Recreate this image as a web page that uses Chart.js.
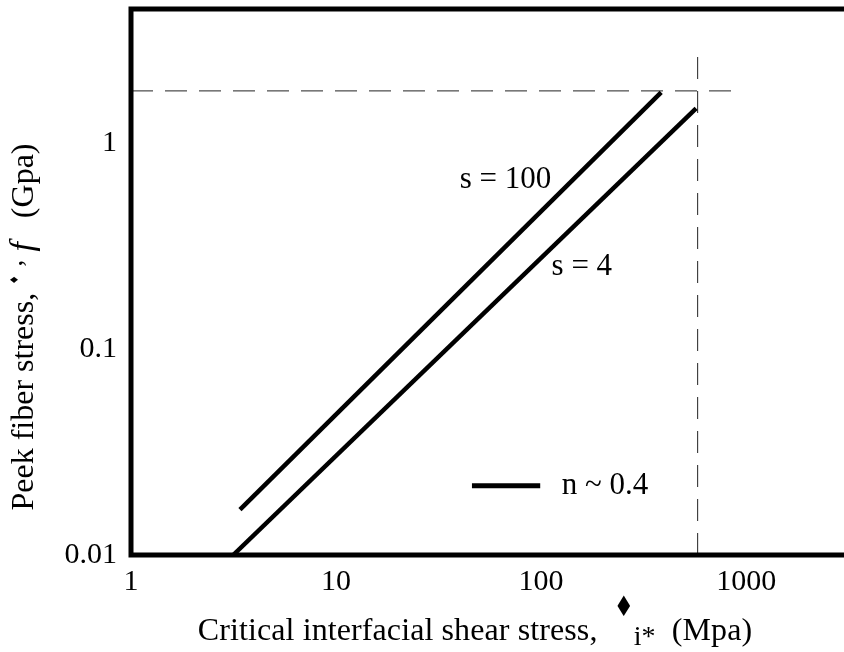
<!DOCTYPE html>
<html>
<head>
<meta charset="utf-8">
<script src="https://cdn.jsdelivr.net/npm/chart.js@4/dist/chart.umd.min.js"></script>
<style>
  html, body { margin: 0; padding: 0; background: #fff; }
  #wrap { width: 844px; height: 652px; }
</style>
</head>
<body>
<div id="wrap"><canvas id="fiberChart" width="844" height="652"></canvas></div>
<script>
// shear stress (MPa) vs. peak fiber stress (GPa), both log scales
const xTicks = [1, 10, 100, 1000];
const yTicks = [0.01, 0.1, 1];

const tauS100 = [3.4, 385];
const sigS100 = [0.0166, 1.77];
const tauS4 = [3.15, 570];
const sigS4 = [0.01, 1.48];

// limit lines
const sigLimit = 1.8;
const sigLimitTau = [1, 850];
const tauLimit = 580;
const tauLimitSig = [0.01, 3.0];

// curve labels, placed in data units
const curveLabels = [
    { text: 's = 100', x: 67, y: 0.667 },
    { text: 's = 4', x: 158, y: 0.25 }
];
const keyLine = { x1: 46, x2: 99, y: 0.0217, textX: 126, text: 'n ~ 0.4' };

const SERIF = '"Liberation Serif", "Times New Roman", serif';
const SYMBOL = '"DejaVu Sans", sans-serif';

function pts(xs, ys) {
    return xs.map((x, i) => ({ x: x, y: ys[i] }));
}

// draw a run of text pieces centred on cx; each piece may be shifted
// vertically (dy) or squeezed horizontally (sx)
function drawParts(ctx, parts, cx, baseline) {
    const widths = parts.map(p => {
        ctx.font = p.f;
        ctx.letterSpacing = p.ls || '0px';
        return ctx.measureText(p.t).width * (p.sx || 1);
    });
    let x = cx - widths.reduce((s, w) => s + w, 0) / 2;
    ctx.textAlign = 'left';
    parts.forEach((p, i) => {
        ctx.font = p.f;
        ctx.letterSpacing = p.ls || '0px';
        ctx.save();
        ctx.translate(x, baseline + (p.dy || 0));
        ctx.scale(p.sx || 1, 1);
        ctx.fillText(p.t, 0, 0);
        ctx.restore();
        x += widths[i];
    });
    ctx.letterSpacing = '0px';
}

const frameAndText = {
    id: 'frameAndText',
    afterDraw(chart) {
        const ctx = chart.ctx;
        const a = chart.chartArea;
        const xs = chart.scales.x;
        const ys = chart.scales.y;

        // heavy frame: left, top, bottom (right side runs off the page)
        ctx.save();
        ctx.strokeStyle = '#000';
        ctx.lineWidth = 5;
        ctx.lineCap = 'square';
        ctx.beginPath();
        ctx.moveTo(chart.width, a.top);
        ctx.lineTo(a.left, a.top);
        ctx.lineTo(a.left, a.bottom);
        ctx.lineTo(chart.width, a.bottom);
        ctx.stroke();
        ctx.restore();

        ctx.save();
        ctx.fillStyle = '#000';
        ctx.textBaseline = 'middle';
        ctx.textAlign = 'center';
        ctx.font = '31px ' + SERIF;
        curveLabels.forEach(l => {
            ctx.fillText(l.text, xs.getPixelForValue(l.x), ys.getPixelForValue(l.y));
        });

        // key for the line style
        const ky = ys.getPixelForValue(keyLine.y);
        ctx.strokeStyle = '#000';
        ctx.lineWidth = 5;
        ctx.beginPath();
        ctx.moveTo(xs.getPixelForValue(keyLine.x1), ky);
        ctx.lineTo(xs.getPixelForValue(keyLine.x2), ky);
        ctx.stroke();
        ctx.textAlign = 'left';
        ctx.fillText(keyLine.text, xs.getPixelForValue(keyLine.textX), ky);
        ctx.restore();

        // x axis title with raised symbol and subscript
        ctx.save();
        ctx.fillStyle = '#000';
        ctx.textBaseline = 'alphabetic';
        const xParts = [
            { t: 'Critical interfacial shear stress,  ', f: '32px ' + SERIF, ls: '0.1px' },
            { t: '\u2666', f: '28px ' + SYMBOL, dy: -24, sx: 0.8 },
            { t: 'i*', f: '28px ' + SERIF, dy: 5 },
            { t: '  (Mpa)', f: '32px ' + SERIF, ls: '0.1px' }
        ];
        drawParts(ctx, xParts, 475, 640);
        ctx.restore();

        // y axis title, rotated
        ctx.save();
        ctx.translate(33, 327);
        ctx.rotate(-Math.PI / 2);
        ctx.fillStyle = '#000';
        ctx.textBaseline = 'alphabetic';
        const yParts = [
            { t: 'Peek fiber stress, ', f: '32px ' + SERIF },
            { t: '\u2666', f: '11px ' + SYMBOL, dy: -15 },
            { t: ' \u2019 ', f: '28px ' + SERIF, dy: 4 },
            { t: 'f', f: 'italic 34px ' + SERIF },
            { t: '   (Gpa)', f: '32px ' + SERIF }
        ];
        drawParts(ctx, yParts, 0, 0);
        ctx.restore();
    }
};

const solid = { borderColor: '#000', borderWidth: 4.5, pointRadius: 0, showLine: true, fill: false, borderCapStyle: 'butt' };
const dashed = { borderColor: '#222', borderWidth: 1, pointRadius: 0, showLine: true, fill: false, borderDash: [22, 12] };

new Chart(document.getElementById('fiberChart'), {
    type: 'scatter',
    data: {
        datasets: [
            Object.assign({ label: 's = 100', data: pts(tauS100, sigS100) }, solid),
            Object.assign({ label: 's = 4', data: pts(tauS4, sigS4) }, solid),
            Object.assign({ label: 'limit stress', data: pts(sigLimitTau, [sigLimit, sigLimit]) }, dashed),
            Object.assign({ label: 'limit shear', data: pts([tauLimit, tauLimit], tauLimitSig) }, dashed)
        ]
    },
    options: {
        responsive: false,
        devicePixelRatio: 1,
        animation: false,
        layout: { padding: { top: 9, right: 0, left: 0, bottom: 0 } },
        plugins: {
            legend: { display: false },
            tooltip: { enabled: false }
        },
        scales: {
            x: {
                type: 'logarithmic',
                min: 1,
                max: 3000,
                grid: { display: false, drawTicks: false },
                border: { display: false },
                afterBuildTicks: s => { s.ticks = xTicks.map(v => ({ value: v })); },
                afterFit: s => { s.height = 97; s.paddingLeft = 0; s.paddingRight = 0; },
                ticks: {
                    padding: 9,
                    color: '#000',
                    maxRotation: 0,
                    font: { family: SERIF, size: 30 },
                    callback: v => String(v)
                }
            },
            y: {
                type: 'logarithmic',
                min: 0.01,
                max: 4.5,
                grid: { display: false, drawTicks: false },
                border: { display: false },
                afterBuildTicks: s => { s.ticks = yTicks.map(v => ({ value: v })); },
                afterFit: s => { s.width = 131; s.paddingTop = 0; s.paddingBottom = 0; },
                ticks: {
                    padding: 14,
                    color: '#000',
                    font: { family: SERIF, size: 30 },
                    callback: v => String(v)
                }
            }
        }
    },
    plugins: [frameAndText]
});
</script>
</body>
</html>
